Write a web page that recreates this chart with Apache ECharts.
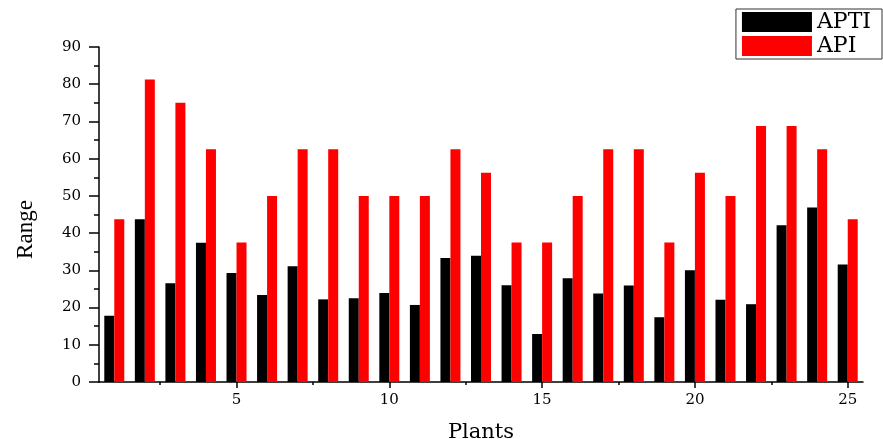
<!DOCTYPE html>
<html>
<head>
<meta charset="utf-8">
<script src="https://cdn.jsdelivr.net/npm/echarts@6/dist/echarts.min.js"></script>
<style>
  html, body { margin: 0; padding: 0; background: #fff; }
  #chart { width: 883px; height: 439px; }
</style>
</head>
<body>
<div id="chart"></div>
<script>
// plant numbers 1..25
var plants = [1, 2, 3, 4, 5, 6, 7, 8, 9, 10, 11, 12, 13, 14, 15, 16, 17, 18, 19, 20, 21, 22, 23, 24, 25]
var apti = [17.8, 43.7, 26.5, 37.4, 29.3, 23.4, 31.1, 22.2, 22.5, 23.9, 20.7, 33.3, 33.9, 26.0, 12.9, 27.9, 23.8, 25.9, 17.4, 30.0, 22.1, 20.9, 42.1, 46.9, 31.6]
var api = [43.75, 81.25, 75, 62.5, 37.5, 50, 62.5, 62.5, 50, 50, 50, 62.5, 56.25, 37.5, 37.5, 50, 62.5, 62.5, 37.5, 56.25, 50, 68.75, 68.75, 62.5, 43.75]
var xMajorTicks = [5, 10, 15, 20, 25]
var xMinorTicks = [2.5, 7.5, 12.5, 17.5, 22.5]

var serif = "'Liberation Serif', 'DejaVu Serif', serif"
var wideSerif = "'DejaVu Serif', 'Liberation Serif', serif"

var chart = echarts.init(document.getElementById('chart'))

chart.setOption({
  animation: false,
  backgroundColor: '#fff',
  color: ['#000000', '#ff0000'],
  grid: {
    left: 99,
    right: 20,
    top: 47,
    bottom: 57,
    outerBoundsMode: 'none',
    containLabel: false
  },
  legend: {
    orient: 'vertical',
    right: 1,
    top: 9,
    icon: 'rect',
    itemWidth: 70,
    itemHeight: 20,
    itemGap: 2,
    padding: [2, 11, 2, 6],
    borderColor: '#333',
    borderWidth: 1,
    textStyle: { fontFamily: wideSerif, fontSize: 22, color: '#000' },
    data: ['APTI', 'API']
  },
  xAxis: [{
    type: 'value',
    min: 0.5,
    max: 25.5,
    name: 'Plants',
    nameLocation: 'middle',
    nameGap: 40,
    nameTextStyle: { fontFamily: wideSerif, fontSize: 21, color: '#000' },
    axisLine: { lineStyle: { color: '#000', width: 1.5 } },
    axisTick: { customValues: xMajorTicks, inside: false, length: 6, lineStyle: { color: '#000', width: 1.5 } },
    axisLabel: { customValues: xMajorTicks, fontFamily: wideSerif, fontSize: 15, color: '#000', margin: 11 },
    splitLine: { show: false }
  }, {
    type: 'value',
    position: 'bottom',
    min: 0.5,
    max: 25.5,
    axisLine: { show: false },
    axisTick: { customValues: xMinorTicks, length: 3, lineStyle: { color: '#000', width: 1.5 } },
    axisLabel: { show: false },
    splitLine: { show: false }
  }],
  yAxis: {
    type: 'value',
    min: 0,
    max: 90,
    interval: 10,
    name: 'Range',
    nameLocation: 'middle',
    nameGap: 62,
    nameTextStyle: { fontFamily: serif, fontSize: 23, color: '#000', padding: [0, 30, 0, 0] },
    axisLine: { show: true, lineStyle: { color: '#000', width: 1.5 } },
    axisTick: { show: true, length: 10, lineStyle: { color: '#000', width: 1.5 } },
    minorTick: { show: true, splitNumber: 2, length: 5, lineStyle: { color: '#000', width: 1.5 } },
    axisLabel: { fontFamily: wideSerif, fontSize: 15, color: '#000', margin: 18 },
    splitLine: { show: false }
  },
  series: [{
    name: 'APTI',
    type: 'bar',
    barWidth: 10,
    barGap: '0%',
    data: plants.map(function (p, i) { return [p, apti[i]] })
  }, {
    name: 'API',
    type: 'bar',
    barWidth: 10,
    barGap: '0%',
    data: plants.map(function (p, i) { return [p, api[i]] })
  }]
})
</script>
</body>
</html>
